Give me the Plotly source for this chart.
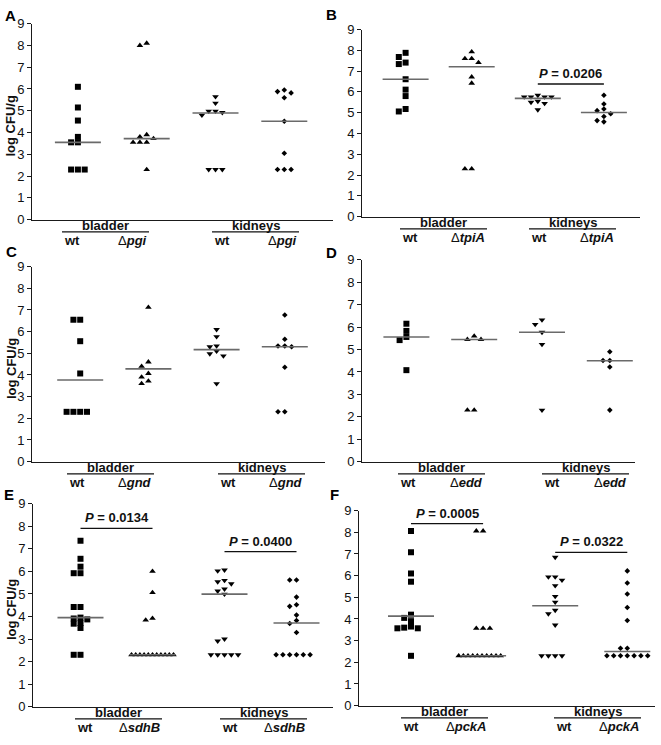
import plotly.graph_objects as go

# ---------------- data ----------------
panel_letters = ["A", "B", "C", "D", "E", "F"]
mutant_names = ["pgi", "tpiA", "gnd", "edd", "sdhB", "pckA"]
organ_labels = ["bladder", "kidneys"]
y_tick_values = [0, 1, 2, 3, 4, 5, 6, 7, 8, 9]

a_bladder_wt = [6.1, 5.15, 4.55, 3.8, 3.55, 3.55, 2.3, 2.3, 2.3]
a_bladder_mut = [8.1, 8.0, 3.9, 3.8, 3.72, 3.55, 3.55, 3.55, 2.3]
a_kidney_wt = [5.65, 5.35, 4.98, 4.98, 4.92, 4.8, 2.3, 2.3, 2.3]
a_kidney_mut = [5.95, 5.88, 5.82, 5.6, 4.52, 3.05, 2.3, 2.3, 2.3]
a_medians = [3.55, 3.72, 4.9, 4.52]

b_bladder_wt = [7.88, 7.68, 7.41, 7.34, 6.61, 6.11, 5.8, 5.18, 5.06]
b_bladder_mut = [7.93, 7.6, 7.6, 7.41, 6.72, 6.42, 2.3, 2.3]
b_kidney_wt = [5.84, 5.76, 5.76, 5.76, 5.76, 5.55, 5.5, 5.45, 5.14]
b_kidney_mut = [5.84, 5.42, 5.18, 5.1, 4.95, 4.82, 4.62, 4.56]
b_medians = [6.61, 7.21, 5.69, 5.01]

c_bladder_wt = [6.55, 6.55, 5.56, 4.07, 2.3, 2.3, 2.3, 2.3]
c_bladder_mut = [7.12, 4.6, 4.4, 4.07, 3.9, 3.72, 3.6]
c_kidney_wt = [6.1, 5.77, 5.34, 5.3, 5.1, 4.98, 4.88, 3.6]
c_kidney_mut = [6.77, 5.65, 5.34, 5.34, 5.3, 4.36, 2.3, 2.3]
c_medians = [3.77, 4.28, 5.17, 5.3]

d_bladder_wt = [6.15, 5.83, 5.56, 5.42, 4.08]
d_bladder_mut = [5.6, 5.45, 5.45, 2.3, 2.3]
d_kidney_wt = [6.32, 6.12, 5.77, 5.23, 2.3]
d_kidney_mut = [4.9, 4.51, 4.51, 4.22, 2.3]
d_medians = [5.56, 5.45, 5.77, 4.5]

e_bladder_wt = [7.36, 6.56, 6.21, 5.92, 5.92, 4.42, 4.42, 3.95, 3.91, 3.87,
                3.71, 3.68, 3.49, 2.3, 2.3]
e_bladder_mut = [6.0, 5.06, 3.92, 3.84, 2.3, 2.3, 2.3, 2.3, 2.3, 2.3, 2.3,
                 2.3, 2.3, 2.3, 2.3]
e_kidney_wt = [6.06, 6.02, 5.6, 5.54, 5.45, 5.22, 5.13, 4.99, 3.0, 2.91,
               2.3, 2.3, 2.3, 2.3, 2.3]
e_kidney_mut = [5.62, 5.62, 4.86, 4.52, 4.45, 4.06, 3.82, 3.69, 3.29,
                2.3, 2.3, 2.3, 2.3, 2.3, 2.3]
e_medians = [3.95, 2.3, 4.99, 3.71]

f_bladder_wt = [8.06, 7.08, 6.1, 5.72, 4.2, 4.05, 3.9, 3.65, 3.6, 3.57, 3.57, 2.3]
f_bladder_mut = [8.06, 8.06, 3.57, 3.57, 3.57, 2.3, 2.3, 2.3, 2.3, 2.3, 2.3,
                 2.3, 2.3, 2.3, 2.3]
f_kidney_wt = [6.85, 5.94, 5.94, 5.79, 5.54, 5.04, 4.78, 4.4, 4.24, 3.72,
               2.3, 2.3, 2.3, 2.3]
f_kidney_mut = [6.22, 5.66, 5.15, 4.53, 3.93, 2.65, 2.65, 2.3, 2.3, 2.3, 2.3,
                2.3, 2.3, 2.3]
f_medians = [4.13, 2.3, 4.61, 2.5]

panel_groups = [
    [a_bladder_wt, a_bladder_mut, a_kidney_wt, a_kidney_mut],
    [b_bladder_wt, b_bladder_mut, b_kidney_wt, b_kidney_mut],
    [c_bladder_wt, c_bladder_mut, c_kidney_wt, c_kidney_mut],
    [d_bladder_wt, d_bladder_mut, d_kidney_wt, d_kidney_mut],
    [e_bladder_wt, e_bladder_mut, e_kidney_wt, e_kidney_mut],
    [f_bladder_wt, f_bladder_mut, f_kidney_wt, f_kidney_mut],
]
panel_medians = [a_medians, b_medians, c_medians, d_medians, e_medians, f_medians]

# significance brackets
p_panel = [1, 4, 4, 5, 5]
p_left_group = [2, 0, 2, 0, 2]
p_right_group = [3, 1, 3, 1, 3]
p_y = [6.38, 7.91, 6.88, 8.4, 7.07]
p_text = ["0.0206", "0.0134", "0.0400", "0.0005", "0.0322"]

# ---------------- layout (pixels) ----------------
W, H = 661, 745
# plot box: x_left, y_top(=9), x_right, y_bottom(=0)
boxes = [(32, 17, 333, 217), (362, 23, 640, 214),
         (32, 265, 325, 464), (362, 258, 635, 464),
         (33, 507, 333, 714), (359, 514, 655, 713)]
first_center_px = [77.9, 405.6, 80.2, 406.4, 80.5, 411.0]
unit_px = [68.8, 66.1, 68.2, 67.8, 72.0, 72.1]
underline_left_px = [(62, 212), (400, 529), (67, 218), (398, 542), (75, 220), (401, 554)]
underline_len = 87
letter_pos = [(10, 9), (331, 8), (11, 250), (331, 251), (9, 498), (335, 498)]

symbols = ["square", "triangle-up", "triangle-down", "diamond"]
sizes = [6, 5.8, 5.8, 4.3]
FONT = "Liberation Sans, Arial, sans-serif"
AXC = "#1a1a1a"


def swarm(values, upx, vpx, step=6.8, thr=5.0, maxw=42.0):
    order = sorted(range(len(values)), key=lambda i: -values[i])
    placed = []
    offs = [0.0] * len(values)
    seq = [0]
    for j in range(1, 30):
        seq += [-j, j]
    for i in order:
        y = values[i] * vpx
        x = 0.0
        for c in seq:
            x = c * step
            if all((x - px) ** 2 + (y - py) ** 2 >= thr ** 2 for px, py in placed):
                break
        placed.append((x, y))
        offs[i] = x
    rows = {}
    for i, v in enumerate(values):
        rows.setdefault(round(v, 2), []).append(i)
    for idx in rows.values():
        xs = [offs[i] for i in idx]
        span = max(xs) - min(xs)
        if span > maxw:
            c = (max(xs) + min(xs)) / 2
            s = maxw / span
            for i in idx:
                offs[i] = c + (offs[i] - c) * s
    return [o / upx for o in offs]


fig = go.Figure()
layout = dict(width=W, height=H, margin=dict(l=0, r=0, t=0, b=0), autosize=False,
              paper_bgcolor="white", plot_bgcolor="white", showlegend=False,
              font=dict(family=FONT, color="#111"))
annotations = []
shapes = []

for p in range(6):
    ax = "" if p == 0 else str(p + 1)
    xa, ya = "x" + ax, "y" + ax
    x0, y9, x1, y0 = boxes[p]
    c1, u = first_center_px[p], unit_px[p]
    vpx = (y0 - y9) / 9.0

    for g, vals in enumerate(panel_groups[p]):
        offs = swarm(vals, u, vpx)
        fig.add_trace(go.Scatter(
            x=[g + 1 + o for o in offs], y=vals, mode="markers",
            marker=dict(symbol=symbols[g], size=sizes[g], color="black",
                        line=dict(width=0)),
            xaxis=xa, yaxis=ya, cliponaxis=False, hoverinfo="skip"))
        hw = 23.0 / u
        m = panel_medians[p][g]
        fig.add_trace(go.Scatter(
            x=[g + 1 - hw, g + 1 + hw], y=[m, m], mode="lines",
            line=dict(color="#6a6a6a", width=1.6),
            xaxis=xa, yaxis=ya, cliponaxis=False, hoverinfo="skip"))

    layout["xaxis" + ax] = dict(
        domain=[x0 / W, x1 / W], range=[1 - (c1 - x0) / u, 1 + (x1 - c1) / u],
        anchor=ya, showline=True, linecolor=AXC, linewidth=1, ticks="",
        showticklabels=False, showgrid=False, zeroline=False, fixedrange=True)
    layout["yaxis" + ax] = dict(
        domain=[1 - y0 / H, 1 - y9 / H], range=[0, 9], anchor=xa,
        tickmode="array", tickvals=y_tick_values,
        ticktext=[str(t) for t in y_tick_values],
        ticks="outside", ticklen=4, tickwidth=1, tickcolor=AXC,
        showline=True, linecolor=AXC, linewidth=1, showgrid=False,
        zeroline=False, fixedrange=True,
        tickfont=dict(size=13, color="#111", family=FONT))

    # category labels under the x axis
    for k in range(2):
        lx = underline_left_px[p][k]
        rx = lx + underline_len
        shapes.append(dict(type="line", xref="paper", yref="paper",
                           x0=lx / W, x1=rx / W, y0=1 - (y0 + 12.5) / H, y1=1 - (y0 + 12.5) / H,
                           line=dict(color="#111", width=1.2)))
        annotations.append(dict(text="<b>%s</b>" % organ_labels[k], xref="paper", yref="paper",
                                x=(lx + rx) / 2 / W, y=1 - (y0 + 5.5) / H,
                                xanchor="center", yanchor="middle", showarrow=False,
                                font=dict(size=13, family=FONT, color="#111")))
        annotations.append(dict(text="<b>wt</b>", xref="paper", yref="paper",
                                x=lx / W, y=1 - (y0 + 21) / H,
                                xanchor="left", yanchor="middle", showarrow=False,
                                font=dict(size=13, family=FONT, color="#111")))
        annotations.append(dict(text="Δ<b><i>%s</i></b>" % mutant_names[p], xref="paper",
                                yref="paper", x=rx / W, y=1 - (y0 + 21) / H,
                                xanchor="right", yanchor="middle", showarrow=False,
                                font=dict(size=13, family=FONT, color="#111")))

    # panel letter
    lx, ly = letter_pos[p]
    annotations.append(dict(text="<b>%s</b>" % panel_letters[p], xref="paper", yref="paper",
                            x=lx / W, y=1 - ly / H, xanchor="center", yanchor="middle",
                            showarrow=False, font=dict(size=15, family=FONT, color="#000")))
    # y title for left panels
    if p % 2 == 0:
        annotations.append(dict(text="<b>log CFU/g</b>", xref="paper", yref="paper",
                                x=11 / W, y=1 - ((y0 + y9) / 2 + 5) / H, textangle=-90,
                                xanchor="center", yanchor="middle", showarrow=False,
                                font=dict(size=13, family=FONT, color="#111")))

# significance brackets
for i in range(len(p_panel)):
    p = p_panel[i]
    ax = "" if p == 0 else str(p + 1)
    xl = p_left_group[i] + 1
    xr = p_right_group[i] + 1
    shapes.append(dict(type="line", xref="x" + ax, yref="y" + ax,
                       x0=xl, x1=xr, y0=p_y[i], y1=p_y[i],
                       line=dict(color="#111", width=1.3)))
    annotations.append(dict(text="<b><i>P</i> = %s</b>" % p_text[i], xref="x" + ax,
                            yref="y" + ax, x=(xl + xr) / 2, y=p_y[i],
                            xanchor="center", yanchor="bottom", yshift=1, showarrow=False,
                            font=dict(size=13, family=FONT, color="#111")))

layout["annotations"] = annotations
layout["shapes"] = shapes
fig.update_layout(**layout)
fig.write_html("out.html", config={"displayModeBar": False},
               post_script="document.body.style.margin='0';document.body.style.overflow='hidden';")
